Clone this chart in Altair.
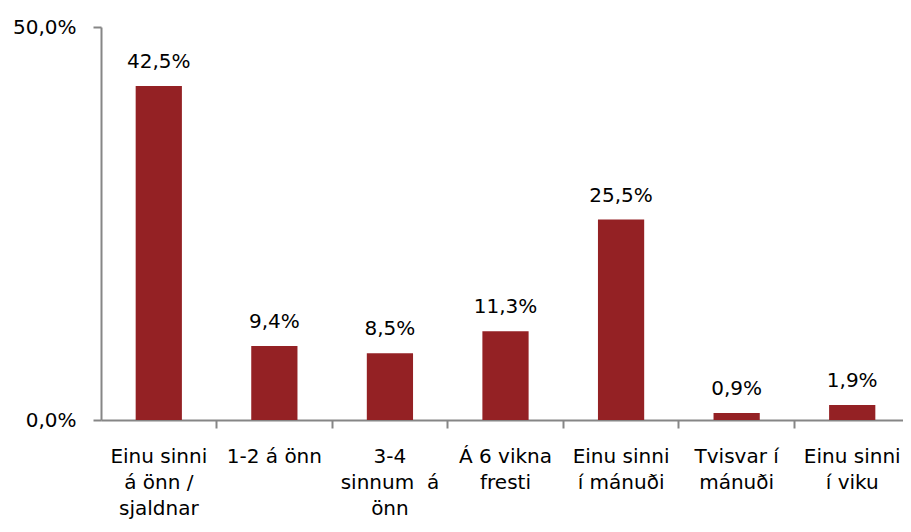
import altair as alt
import pandas as pd

categories = [
    "Einu sinni|á önn /|sjaldnar",
    "1-2 á önn",
    "3-4|sinnum \u00a0á|önn",
    "Á 6 vikna|fresti",
    "Einu sinni|í mánuði",
    "Tvisvar í|mánuði",
    "Einu sinni|í viku",
]
values = [42.5, 9.4, 8.5, 11.3, 25.5, 0.9, 1.9]
y_ticks = [0, 50]

df = pd.DataFrame({"cat": categories, "val": values})
df["lbl"] = [f"{v:.1f}".replace(".", ",") + "%" for v in values]

FONT = "DejaVu Sans"
GRAY = "#868686"
BAR = "#942124"

x = alt.X(
    "cat:N",
    sort=categories,
    title=None,
    scale=alt.Scale(paddingInner=0.6, paddingOuter=0.3),
    axis=alt.Axis(
        labelExpr="split(datum.label, '|')",
        labelAngle=0,
        labelFont=FONT,
        labelFontSize=20,
        labelColor="#000000",
        labelLineHeight=26,
        labelBaseline="top",
        labelPadding=18,
        tickSize=8,
        tickWidth=2,
        tickColor=GRAY,
        domainColor=GRAY,
        domainWidth=2,
        bandPosition=1.75,
        labelLimit=200,
    ),
)
y = alt.Y(
    "val:Q",
    title=None,
    scale=alt.Scale(domain=[0, 50], nice=False),
    axis=alt.Axis(
        values=y_ticks,
        labelExpr="replace(format(datum.value, '.1f'), '.', ',') + '%'",
        labelFont=FONT,
        labelFontSize=20,
        labelColor="#000000",
        labelPadding=17,
        tickSize=8,
        tickWidth=2,
        tickColor=GRAY,
        domainColor=GRAY,
        domainWidth=2,
        grid=False,
    ),
)

base = alt.Chart(df)
bars = base.mark_bar(color=BAR).encode(x=x, y=y)
text = base.mark_text(font=FONT, fontSize=20, color="#000000", baseline="alphabetic", dy=-18).encode(
    x=alt.X("cat:N", sort=categories), y="val:Q", text="lbl:N"
)

chart = (
    alt.layer(bars, text)
    .properties(
        width=809,
        height=393,
        autosize=alt.AutoSizeParams(type="none"),
        padding={"left": 93, "top": 19, "right": -7, "bottom": 100},
    )
    .configure_view(stroke=None)
)

chart.save("out.html", embed_options={"renderer": "svg", "actions": False})
